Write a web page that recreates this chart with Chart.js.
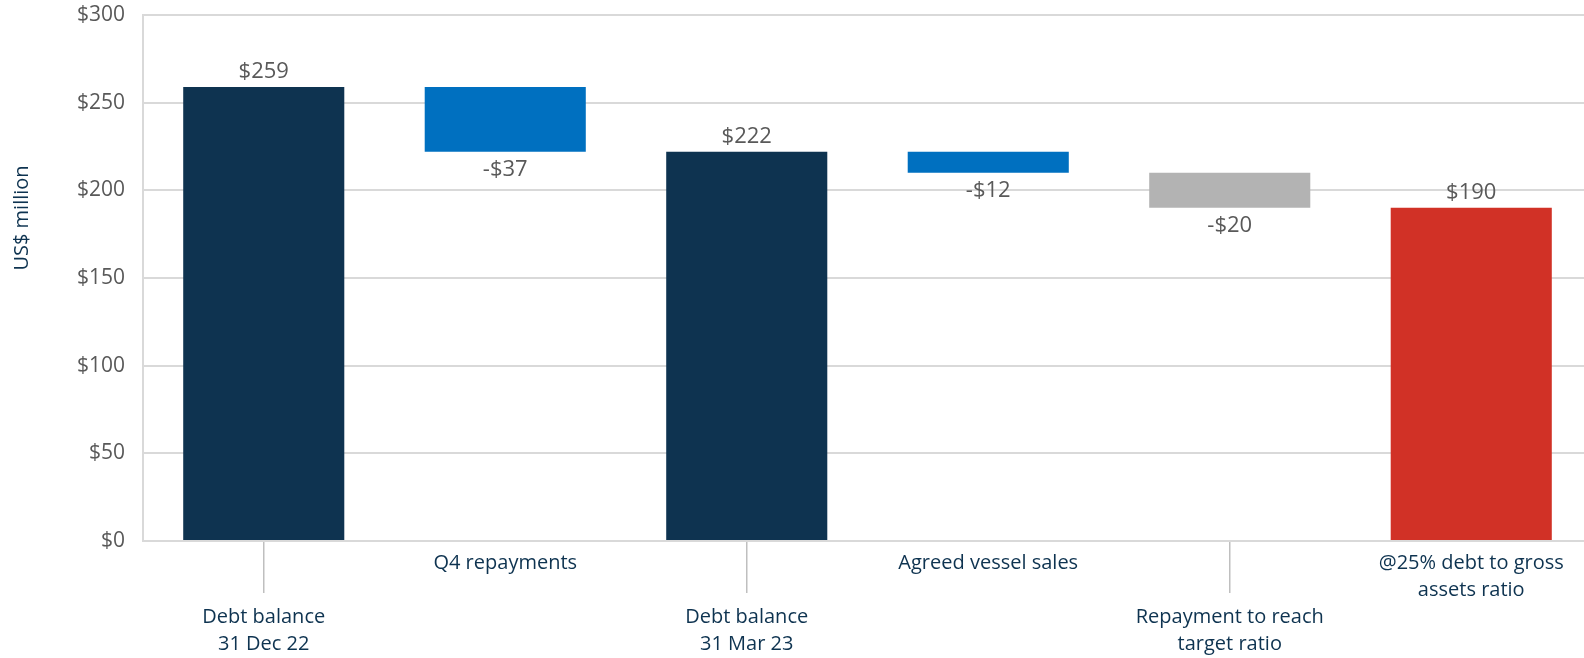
<!DOCTYPE html>
<html>
<head>
<meta charset="utf-8">
<script src="https://cdn.jsdelivr.net/npm/chart.js@4.4.0/dist/chart.umd.min.js"></script>
<style>
  html, body { margin: 0; padding: 0; background: #ffffff; overflow: hidden; }
  #wrap { width: 1600px; height: 658px; }
</style>
</head>
<body>
<div id="wrap"><canvas id="chart" width="1600" height="658"></canvas></div>
<script>
// Waterfall: debt balance walk (US$ million)
const labels = [
    ['', '', 'Debt balance', '31 Dec 22'],
    ['Q4 repayments'],
    ['', '', 'Debt balance', '31 Mar 23'],
    ['Agreed vessel sales'],
    ['', '', 'Repayment to reach', 'target ratio'],
    ['@25% debt to gross', 'assets ratio'],
];
const values = [259, -37, 222, -12, -20, 190];
const isTotal = [true, false, true, false, false, true];
const barColors = ['#0e3350', '#0070c0', '#0e3350', '#0070c0', '#b3b3b3', '#d13126'];
const yTicks = [0, 50, 100, 150, 200, 250, 300];

const NAVY = '#0e3350';
const GREY_TEXT = '#595959';
const GRID = '#d9d9d9';
const FONT = "'Open Sans', 'Noto Sans', sans-serif";

// Floating [low, high] ranges from the running balance.
let running = 0;
const ranges = values.map((v, i) => {
    if (isTotal[i]) { running = v; return [0, v]; }
    const start = running;
    running += v;
    return [running, start];
});

const fmt = v => (v < 0 ? '-$' : '$') + Math.abs(v);

// Value labels: totals above the bar, changes below it.
const valueLabels = {
    id: 'valueLabels',
    afterDatasetsDraw(chart) {
        const { ctx } = chart;
        const meta = chart.getDatasetMeta(0);
        ctx.save();
        ctx.font = `22px ${FONT}`;
        ctx.fillStyle = GREY_TEXT;
        ctx.textAlign = 'center';
        ctx.textBaseline = 'middle';
        meta.data.forEach((bar, i) => {
            const top = Math.min(bar.y, bar.base);
            const bottom = Math.max(bar.y, bar.base);
            const y = isTotal[i] ? top - 15 : bottom + 18;
            ctx.fillText(fmt(values[i]), bar.x, y);
        });
        ctx.restore();
    },
};

// Y axis title sits above the middle of the axis.
const yTitle = {
    id: 'yTitle',
    afterDraw(chart) {
        const { ctx } = chart;
        ctx.save();
        ctx.translate(22, 218);
        ctx.rotate(-Math.PI / 2);
        ctx.font = `20px ${FONT}`;
        ctx.fillStyle = NAVY;
        ctx.textAlign = 'center';
        ctx.textBaseline = 'middle';
        ctx.fillText('US$ million', 0, 0);
        ctx.restore();
    },
};

new Chart(document.getElementById('chart'), {
    type: 'bar',
    data: {
        labels,
        datasets: [{
            data: ranges,
            backgroundColor: barColors,
            borderWidth: 0,
            barPercentage: 0.667,
            categoryPercentage: 1,
        }],
    },
    options: {
        responsive: false,
        animation: false,
        layout: { padding: { top: 15, right: 8, left: 0, bottom: 0 } },
        plugins: { legend: { display: false }, tooltip: { enabled: false } },
        scales: {
            x: {
                afterFit: s => { s.height = 117; s.paddingLeft = 0; s.paddingRight = 0; },
                grid: {
                    offset: false,
                    drawOnChartArea: false,
                    drawTicks: true,
                    tickLength: 52,
                    lineWidth: 1.5,
                    color: c => (c.index % 2 === 0 ? '#bfbfbf' : 'rgba(0,0,0,0)'),
                },
                border: { display: true, color: GRID, width: 2 },
                ticks: {
                    color: NAVY,
                    padding: -43,
                    maxRotation: 0,
                    autoSkip: false,
                    font: { family: FONT, size: 20, lineHeight: 1.34 },
                },
            },
            y: {
                min: 0,
                max: 300,
                afterFit: s => { s.width = 143; s.paddingTop = 0; s.paddingBottom = 0; },
                afterBuildTicks: s => { s.ticks = yTicks.map(v => ({ value: v })); },
                grid: { color: GRID, lineWidth: 2, drawTicks: false },
                border: { display: true, color: GRID, width: 2 },
                ticks: {
                    color: GREY_TEXT,
                    padding: 18,
                    font: { family: FONT, size: 21 },
                    callback: v => '$' + v,
                },
            },
        },
    },
    plugins: [valueLabels, yTitle],
});
</script>
</body>
</html>
